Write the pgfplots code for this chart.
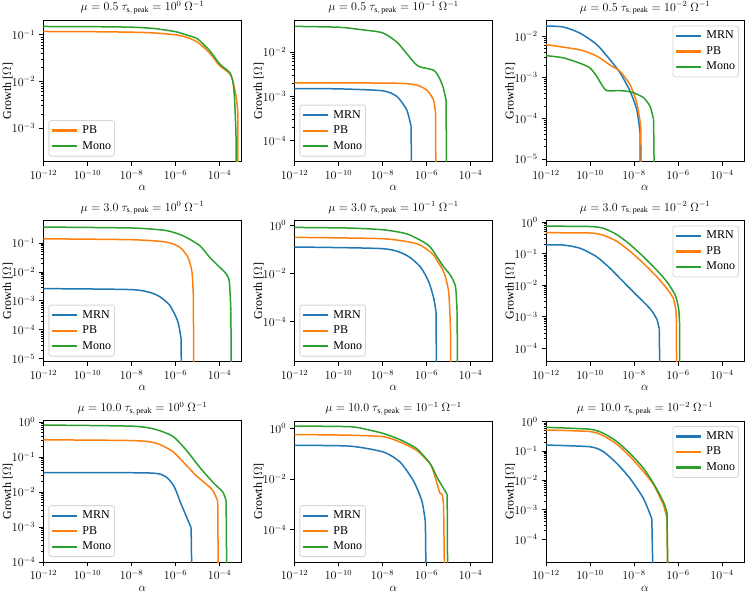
\documentclass[12pt,border=0pt]{standalone}
\usepackage{fontspec}
\setmainfont{Liberation Serif}
\usepackage{pgfplots}
\pgfplotsset{compat=1.18}
\definecolor{C0}{HTML}{1F77B4}
\definecolor{C1}{HTML}{FF7F0E}
\definecolor{C2}{HTML}{2CA02C}
\definecolor{legframe}{HTML}{D6D6D6}
\pgfplotsset{
  legend image code/.code={\path[#1, sharp corners, draw=none, fill] (0pt,-1.1pt) rectangle (25pt,1.1pt);},
  every axis plot/.append style={line width=1.5pt, line join=round},
  sm/.style={smooth, tension=0.4},
  every axis/.append style={
    xmode=log, ymode=log, scale only axis, width=198pt, height=141pt,
    anchor=south west,
    xmin=1e-12, xmax=1e-3,
    xtick={1e-12,1e-10,1e-8,1e-6,1e-4},
    tick align=outside, xtick pos=bottom, ytick pos=left,
    major tick length=4.2pt, minor tick length=2.4pt,
    every tick/.style={black, line width=0.9pt},
    axis line style={line width=1pt},
    xlabel={$\alpha$}, ylabel={Growth [$\Omega$]},
    xlabel style={at={(axis description cs:0.5,-0.188)}, anchor=center},
    ylabel style={at={(axis description cs:-0.18,0.5)}, anchor=center},
    title style={at={(0.5,1)}, anchor=base, yshift=3.5pt, inner sep=1pt},
    legend cell align=left,
    legend style={draw=legframe, line width=0.8pt, rounded corners=2.5pt, fill=white,
      row sep=4.5pt, inner xsep=3.5pt, inner ysep=4.5pt,
      nodes={inner sep=0pt, text height=8.5pt, text depth=2.5pt, sharp corners},
      /tikz/every odd column/.append style={column sep=5pt}},
  },
  ll/.style={legend style={at={(0,0)}, anchor=south west, xshift=5pt, yshift=5pt}},
  ur/.style={legend style={at={(1,1)}, anchor=north east, xshift=-5pt, yshift=-5pt}},
}
\begin{document}
\begin{tikzpicture}
\useasboundingbox (0,0) rectangle (747pt,598pt);
% ---------- Row 1 ----------
\begin{axis}[ll, at={(43.5pt,436.5pt)}, ymin=1.93e-4, ymax=0.203,
  ytick={1e-3,1e-2,1e-1},
  title={$\mu=0.5$ $\tau_{\mathrm{s,\,peak}}=10^{0}$ $\Omega^{-1}$}]
\addplot[C1, sm] coordinates {(1e-12,0.118) (1e-10,0.117) (1e-8,0.114) (1e-7,0.11) (1e-6,0.1) (3.09e-6,0.089) (1e-5,0.07) (3.55e-5,0.041) (1e-4,0.022) (2.82e-4,0.015) (3.98e-4,0.0105) (5.62e-4,0.005) (6.76e-4,0.0024)};
\addlegendentry{PB}
\addplot[C2, sm] coordinates {(1e-12,0.151) (1e-10,0.15) (1e-8,0.146) (1e-7,0.137) (1e-6,0.117) (3.09e-6,0.1) (1e-5,0.082) (3.55e-5,0.046) (1e-4,0.024) (2.82e-4,0.0158) (3.98e-4,0.0105) (4.79e-4,0.0046) (5.62e-4,7.8e-4)};
\addlegendentry{Mono}
\addplot[C1, forget plot] coordinates {(6.76e-4,0.0024) (7.24e-4,1e-9)};
\addplot[C2, forget plot] coordinates {(5.62e-4,7.8e-4) (6.1e-4,1e-9)};
\end{axis}
\begin{axis}[ll, at={(294.5pt,436.5pt)}, ymin=3.44e-5, ymax=0.051,
  ytick={1e-4,1e-3,1e-2},
  title={$\mu=0.5$ $\tau_{\mathrm{s,\,peak}}=10^{-1}$ $\Omega^{-1}$}]
\addplot[C0, sm] coordinates {(1e-12,0.0015) (1e-10,0.00148) (1e-8,0.00134) (4.47e-8,0.001) (1.26e-7,5e-4) (2e-7,2.1e-4)};
\addlegendentry{MRN}
\addplot[C1, sm] coordinates {(1e-12,0.00202) (1e-8,0.002) (1e-7,0.00195) (3.63e-7,0.0018) (1.05e-6,0.00138) (2.09e-6,8.3e-4) (2.57e-6,4.2e-4)};
\addlegendentry{PB}
\addplot[C2, sm] coordinates {(1e-12,0.0376) (1e-10,0.036) (9.3e-10,0.032) (1e-8,0.027) (4.47e-8,0.0167) (1.26e-7,0.0092) (3.02e-7,0.0055) (5.13e-7,0.0046) (2.09e-6,0.0039) (3.55e-6,0.0028) (5.62e-6,0.00165) (7.76e-6,8.3e-4)};
\addlegendentry{Mono}
\addplot[C0, forget plot] coordinates {(2e-7,2.1e-4) (2.4e-7,1e-9)};
\addplot[C1, forget plot] coordinates {(2.57e-6,4.2e-4) (3.0e-6,1e-9)};
\addplot[C2, forget plot] coordinates {(7.76e-6,8.3e-4) (9.1e-6,1e-9)};
\end{axis}
\begin{axis}[ur, at={(546pt,436.5pt)}, ymin=8.8e-6, ymax=0.0245,
  ytick={1e-5,1e-4,1e-3,1e-2},
  title={$\mu=0.5$ $\tau_{\mathrm{s,\,peak}}=10^{-2}$ $\Omega^{-1}$}]
\addplot[C0, sm] coordinates {(1e-12,0.018) (6.2e-12,0.017) (3.55e-11,0.012) (2.04e-10,0.0063) (8.1e-10,0.0027) (2.34e-9,0.00129) (6.6e-9,4.6e-4) (1.35e-8,1.6e-4) (1.9e-8,4.4e-5)};
\addlegendentry{MRN}
\addplot[C1, sm] coordinates {(1e-12,0.0063) (3.55e-11,0.0047) (2.04e-10,0.0033) (8.1e-10,0.002) (2.34e-9,0.0014) (6.6e-9,6.6e-4) (1.35e-8,2.35e-4) (2.04e-8,6.3e-5)};
\addlegendentry{PB}
\addplot[C2, sm] coordinates {(1e-12,0.0034) (6.2e-12,0.003) (3.55e-11,0.0022) (1e-10,0.0017) (2.04e-10,0.00105) (3.39e-10,6.6e-4) (4.9e-10,5e-4) (6.3e-10,4.7e-4) (3.31e-9,4.7e-4) (9.55e-9,4.2e-4) (2.69e-8,3.2e-4) (5.4e-8,1.95e-4) (7.76e-8,9.3e-5)};
\addlegendentry{Mono}
\addplot[C0, forget plot] coordinates {(1.9e-8,4.4e-5) (2.04e-8,1e-9)};
\addplot[C1, forget plot] coordinates {(2.04e-8,6.3e-5) (2.51e-8,1e-9)};
\addplot[C2, forget plot] coordinates {(7.76e-8,9.3e-5) (1e-7,1e-9)};
\end{axis}
% ---------- Row 2 ----------
\begin{axis}[ll, at={(43.5pt,236.5pt)}, ymin=8.1e-6, ymax=0.6,
  ytick={1e-5,1e-4,1e-3,1e-2,1e-1},
  title={$\mu=3.0$ $\tau_{\mathrm{s,\,peak}}=10^{0}$ $\Omega^{-1}$}]
\addplot[C0, sm] coordinates {(1e-12,0.00266) (1.12e-8,0.00245) (1.29e-7,0.00166) (5.25e-7,7.4e-4) (1.26e-6,2e-4) (1.78e-6,5.2e-5)};
\addlegendentry{MRN}
\addplot[C1, sm] coordinates {(1e-12,0.14) (1.12e-8,0.13) (3.72e-7,0.108) (1.51e-6,0.073) (3.63e-6,0.033) (5.62e-6,0.01) (6.46e-6,0.0016)};
\addlegendentry{PB}
\addplot[C2, sm] coordinates {(1e-12,0.356) (1.12e-8,0.33) (3.72e-7,0.27) (2.14e-6,0.18) (1.23e-5,0.083) (3.47e-5,0.033) (1e-4,0.0148) (2e-4,0.0087) (2.82e-4,0.0045) (3.3e-4,4.4e-4)};
\addlegendentry{Mono}
\addplot[C0, forget plot] coordinates {(1.78e-6,5.2e-5) (2.14e-6,1e-9)};
\addplot[C1, forget plot] coordinates {(6.46e-6,0.0016) (7.24e-6,1e-9)};
\addplot[C2, forget plot] coordinates {(3.3e-4,4.4e-4) (3.63e-4,1e-9)};
\end{axis}
\begin{axis}[ll, at={(294.5pt,236.5pt)}, ymin=2.2e-6, ymax=1.61,
  ytick={1e-4,1e-2,1e0},
  title={$\mu=3.0$ $\tau_{\mathrm{s,\,peak}}=10^{-1}$ $\Omega^{-1}$}]
\addplot[C0, sm] coordinates {(1e-12,0.127) (1.1e-8,0.108) (1.26e-7,0.057) (5.25e-7,0.019) (1.26e-6,0.0046) (2.14e-6,9.3e-4) (2.7e-6,2.6e-4)};
\addlegendentry{MRN}
\addplot[C1, sm] coordinates {(1e-12,0.32) (1.1e-8,0.28) (3.63e-7,0.174) (1.48e-6,0.08) (2.14e-6,0.057) (6.03e-6,0.0117) (1.02e-5,0.0017) (1.23e-5,5.2e-5)};
\addlegendentry{PB}
\addplot[C2, sm] coordinates {(1e-12,0.83) (3.24e-10,0.78) (1.1e-8,0.66) (1.26e-7,0.45) (7.41e-7,0.204) (1.48e-6,0.127) (3.02e-6,0.049) (6.03e-6,0.019) (1.23e-5,0.0085) (2.09e-5,0.0028) (2.45e-5,2.6e-4)};
\addlegendentry{Mono}
\addplot[C0, forget plot] coordinates {(2.7e-6,2.6e-4) (3.02e-6,1e-9)};
\addplot[C1, forget plot] coordinates {(1.23e-5,5.2e-5) (1.35e-5,1e-9)};
\addplot[C2, forget plot] coordinates {(2.45e-5,2.6e-4) (2.75e-5,1e-9)};
\end{axis}
\begin{axis}[ur, at={(546pt,236.5pt)}, ymin=3.8e-5, ymax=1.15,
  ytick={1e-4,1e-3,1e-2,1e-1,1e0},
  title={$\mu=3.0$ $\tau_{\mathrm{s,\,peak}}=10^{-2}$ $\Omega^{-1}$}]
\addplot[C0, sm] coordinates {(1e-12,0.195) (6.31e-12,0.19) (3.55e-11,0.151) (2.0e-10,0.081) (8.1e-10,0.035) (3.31e-9,0.0129) (1.35e-8,0.0048) (5.5e-8,0.00178) (1.1e-7,8.3e-4) (1.41e-7,4e-4)};
\addlegendentry{MRN}
\addplot[C1, sm] coordinates {(1e-12,0.47) (1e-10,0.46) (4.07e-10,0.39) (1.66e-9,0.25) (6.76e-9,0.12) (2.69e-8,0.05) (1.1e-7,0.0186) (3.16e-7,0.0078) (6.3e-7,0.0037) (8.3e-7,0.00138)};
\addlegendentry{PB}
\addplot[C2, sm] coordinates {(1e-12,0.76) (1e-10,0.74) (4.07e-10,0.65) (1.66e-9,0.41) (6.76e-9,0.195) (2.69e-8,0.081) (1.1e-7,0.03) (3.16e-7,0.0129) (7.59e-7,0.0048) (1.07e-6,0.00178) (1.17e-6,6.6e-4)};
\addlegendentry{Mono}
\addplot[C0, forget plot] coordinates {(1.41e-7,4e-4) (1.74e-7,1e-9)};
\addplot[C1, forget plot] coordinates {(8.3e-7,0.00138) (9.55e-7,1e-9)};
\addplot[C2, forget plot] coordinates {(1.17e-6,6.6e-4) (1.26e-6,1e-9)};
\end{axis}
% ---------- Row 3 ----------
\begin{axis}[ll, at={(43.5pt,36pt)}, ymin=1e-4, ymax=1.07,
  ytick={1e-4,1e-3,1e-2,1e-1,1e0},
  title={$\mu=10.0$ $\tau_{\mathrm{s,\,peak}}=10^{0}$ $\Omega^{-1}$}]
\addplot[C0, sm] coordinates {(1e-12,0.036) (6.46e-8,0.035) (3.72e-7,0.027) (8.9e-7,0.0138) (1.78e-6,0.0046) (3.02e-6,0.0021) (5.13e-6,9.5e-4)};
\addlegendentry{MRN}
\addplot[C1, sm] coordinates {(1e-12,0.31) (1.12e-8,0.295) (1.29e-7,0.25) (7.4e-7,0.144) (3.02e-6,0.059) (8.5e-6,0.03) (2.45e-5,0.017) (5e-5,0.011) (8.3e-5,0.0056)};
\addlegendentry{PB}
\addplot[C2, sm] coordinates {(1e-12,0.82) (1.12e-8,0.76) (1.29e-7,0.61) (7.6e-7,0.39) (3.02e-6,0.16) (1.23e-5,0.052) (5e-5,0.019) (1.41e-4,0.01) (2e-4,0.0056)};
\addlegendentry{Mono}
\addplot[C0, forget plot] coordinates {(5.13e-6,9.5e-4) (6.92e-6,1e-9)};
\addplot[C1, forget plot] coordinates {(8.3e-5,0.0056) (1e-4,1e-9)};
\addplot[C2, forget plot] coordinates {(2e-4,0.0056) (2.45e-4,1e-9)};
\end{axis}
\begin{axis}[ll, at={(294.5pt,36pt)}, ymin=5.4e-6, ymax=1.96,
  ytick={1e-4,1e-2,1e0},
  title={$\mu=10.0$ $\tau_{\mathrm{s,\,peak}}=10^{-1}$ $\Omega^{-1}$}]
\addplot[C0, sm] coordinates {(1e-12,0.215) (3.3e-10,0.2) (1.1e-8,0.117) (6.3e-8,0.047) (2.57e-7,0.0085) (6.2e-7,0.00135) (8.9e-7,2.1e-4)};
\addlegendentry{MRN}
\addplot[C1, sm] coordinates {(1e-12,0.575) (3.3e-10,0.54) (1.1e-8,0.47) (6.3e-8,0.29) (3.63e-7,0.135) (1.48e-6,0.04) (2.5e-6,0.0117) (4.0e-6,0.0029) (5.1e-6,0.0025) (6.0e-6,0.001)};
\addlegendentry{PB}
\addplot[C2, sm] coordinates {(1e-12,1.24) (3.3e-10,1.17) (1.9e-9,0.91) (1.1e-8,0.63) (6.3e-8,0.36) (3.63e-7,0.158) (1.48e-6,0.04) (3.02e-6,0.0117) (5.1e-6,0.0054) (8.7e-6,0.0025)};
\addlegendentry{Mono}
\addplot[C0, forget plot] coordinates {(8.9e-7,2.1e-4) (1.05e-6,1e-9)};
\addplot[C1, forget plot] coordinates {(6.0e-6,0.001) (7.24e-6,1e-9)};
\addplot[C2, forget plot] coordinates {(8.7e-6,0.0025) (9.55e-6,1e-9)};
\end{axis}
\begin{axis}[ur, at={(546pt,36pt)}, ymin=1.7e-5, ymax=1.05,
  ytick={1e-4,1e-3,1e-2,1e-1,1e0},
  title={$\mu=10.0$ $\tau_{\mathrm{s,\,peak}}=10^{-2}$ $\Omega^{-1}$}]
\addplot[C0, sm] coordinates {(1e-12,0.16) (1e-10,0.14) (4.07e-10,0.095) (1.66e-9,0.038) (6.6e-9,0.0117) (2.69e-8,0.00245) (6.46e-8,5e-4)};
\addlegendentry{MRN}
\addplot[C1, sm] coordinates {(1e-12,0.52) (1e-10,0.46) (4.07e-10,0.33) (1.66e-9,0.17) (6.6e-9,0.065) (2.69e-8,0.02) (7.76e-8,0.0072) (2.19e-7,0.00145) (3.16e-7,5e-4)};
\addlegendentry{PB}
\addplot[C2, sm] coordinates {(1e-12,0.64) (1e-10,0.55) (4.07e-10,0.4) (1.66e-9,0.21) (6.6e-9,0.083) (2.69e-8,0.026) (7.76e-8,0.0079) (2.19e-7,0.00186) (3.16e-7,7.9e-4)};
\addlegendentry{Mono}
\addplot[C0, forget plot] coordinates {(6.46e-8,5e-4) (9.1e-8,1e-9)};
\addplot[C1, forget plot] coordinates {(3.16e-7,5e-4) (3.72e-7,1e-9)};
\addplot[C2, forget plot] coordinates {(3.16e-7,7.9e-4) (4.1e-7,1e-9)};
\end{axis}
\end{tikzpicture}
\end{document}
